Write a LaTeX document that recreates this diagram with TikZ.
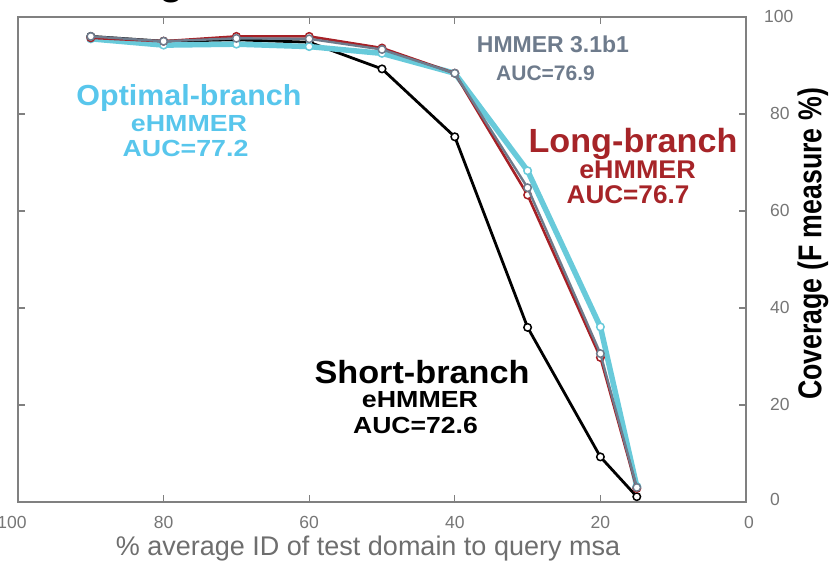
\documentclass[tikz,border=0pt]{standalone}
\usepackage{fontspec}
\setmainfont{Liberation Sans}

\definecolor{axisgray}{RGB}{128,128,128}
\definecolor{ticktext}{RGB}{118,118,118}
\definecolor{labeltext}{RGB}{110,110,110}
\definecolor{cyanline}{RGB}{104,202,218}
\definecolor{cyantext}{RGB}{88,198,236}
\definecolor{redline}{RGB}{166,32,38}
\definecolor{redtext}{RGB}{166,36,40}
\definecolor{slate}{RGB}{110,123,140}

\newcommand{\fsz}[1]{\fontsize{#1}{#1}\selectfont}
\newcommand{\wide}[2]{\scalebox{#1}[1]{#2}}

% data: x = % identity, y = coverage
\def\shortdata{90/96.0,80/95.0,70/95.3,60/94.8,50/89.3,40/75.3,30/36.0,20/9.3,15/1.1}
\def\optdata{90/95.5,80/94.2,70/94.4,60/93.9,50/92.5,40/88.4,30/68.3,20/36.1,15/3.2}
\def\longdata{90/95.7,80/95.0,70/96.0,60/96.0,50/93.6,40/88.4,30/63.3,20/29.8,15/2.8}
\def\hmmerdata{90/96.0,80/95.0,70/95.6,60/95.5,50/93.3,40/88.4,30/64.8,20/30.6,15/3.0}

\tikzset{
  axisline/.style={draw=axisgray, line width=1.5pt},
  tickmark/.style={draw=axisgray, line width=1.3pt},
  ticklabel/.style={inner sep=0pt, text=ticktext, font=\fsz{17.5}},
  series/.style={line width=#1, line join=round, line cap=round},
  dot/.style={circle, inner sep=0pt, minimum size=7.5pt, fill=white, draw=#1, line width=1.5pt},
  tag/.style={inner sep=0pt, anchor=base},
}

% prefix, data list, colour, line width
\newcommand{\plotseries}[4]{%
  \foreach [count=\i] \a/\b in #2 {\coordinate (#1\i) at ({746-7.28*\a},{502-4.85*\b});}
  \draw[#3, series=#4] (#11) \foreach \i in {2,...,9} {-- (#1\i)};
  \foreach \i in {1,...,9} {\node[dot=#3] (#1m\i) at (#1\i) {};}
}

\begin{document}
\begin{tikzpicture}[x=1pt, y=-1pt]
\useasboundingbox (0,0) rectangle (835,560);

% cut-off heading above the axes
\node[tag, font=\bfseries\fsz{40}] (heading) at (172,-6) {g};

% axes box and ticks
\draw[axisline] (18,17) rectangle (746,502);
\foreach \v in {20,40,60,80} {
  \draw[tickmark] ({746-7.28*\v},502) -- ++(0,-7);
  \draw[tickmark] ({746-7.28*\v},17) -- ++(0,7);
  \draw[tickmark] (18,{502-4.85*\v}) -- ++(7,0);
  \draw[tickmark] (746,{502-4.85*\v}) -- ++(-7,0);
}

% tick labels
\foreach \v in {20,40,60,80} {
  \node[ticklabel, anchor=base] at ({746-7.28*\v},528.5) {\v};
  \node[ticklabel, anchor=base west] at (770,{507.5-4.85*\v}) {\v};
}
\node[ticklabel, anchor=base] at (12,528.5) {100};
\node[ticklabel, anchor=base] at (749,528.5) {0};
\node[ticklabel, anchor=base west] at (764,22.5) {100};
\node[ticklabel, anchor=base west] at (770,505) {0};

% axis titles
\node[tag, text=labeltext, font=\fsz{27}] (xtitle) at (368,555) {\% average ID of test domain to query msa};
\node[rotate=90, inner sep=0pt, font=\bfseries\fsz{33}] (ytitle) at (813,244) {\wide{0.81}{Coverage (F measure \%)}};

% curves
\plotseries{k}{\shortdata}{black}{2.8pt}
\plotseries{c}{\optdata}{cyanline}{5.5pt}
\plotseries{r}{\longdata}{redline}{2.6pt}
\plotseries{h}{\hmmerdata}{slate}{2.4pt}

% series labels
\node[tag, text=cyantext, font=\bfseries\fsz{29}] (opt1) at (189,105.5) {\wide{1.05}{Optimal-branch}};
\node[tag, text=cyantext, font=\bfseries\fsz{23.3}] (opt2) at (189,131.7) {\wide{1.15}{eHMMER}};
\node[tag, text=cyantext, font=\bfseries\fsz{23.3}] (opt3) at (185.5,156.7) {\wide{1.15}{AUC=77.2}};

\node[tag, text=slate, font=\bfseries\fsz{23}] (hm1) at (553,52) {HMMER 3.1b1};
\node[tag, text=slate, font=\bfseries\fsz{21}] (hm2) at (545.5,80) {AUC=76.9};

\node[tag, text=redtext, font=\bfseries\fsz{33.5}] (long1) at (633,152) {\wide{1.02}{Long-branch}};
\node[tag, text=redtext, font=\bfseries\fsz{25.6}] (long2) at (637.5,178) {\wide{1.05}{eHMMER}};
\node[tag, text=redtext, font=\bfseries\fsz{25.6}] (long3) at (628,203.3) {\wide{1.02}{AUC=76.7}};

\node[tag, text=black, font=\bfseries\fsz{32}] (short1) at (422,383.3) {\wide{1.07}{Short-branch}};
\node[tag, text=black, font=\bfseries\fsz{23.3}] (short2) at (420,407.3) {\wide{1.15}{eHMMER}};
\node[tag, text=black, font=\bfseries\fsz{23.3}] (short3) at (415.5,433.3) {\wide{1.14}{AUC=72.6}};
\end{tikzpicture}
\end{document}
